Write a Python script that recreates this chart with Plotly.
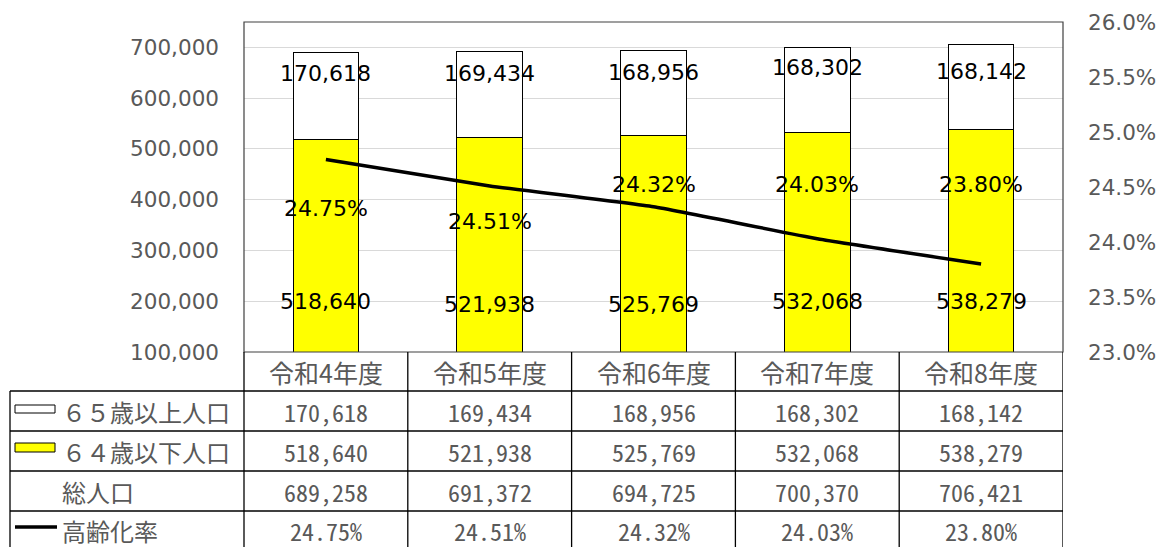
import plotly.graph_objects as go

# ---------------- data ----------------
categories = ["令和4年度", "令和5年度", "令和6年度", "令和7年度", "令和8年度"]
pop_65_over = [170618, 169434, 168956, 168302, 168142]
pop_64_under = [518640, 521938, 525769, 532068, 538279]
pop_total = [689258, 691372, 694725, 700370, 706421]
aging_rate = [24.75, 24.51, 24.32, 24.03, 23.80]  # percent

row_labels = ["６５歳以上人口", "６４歳以下人口", "総人口", "高齢化率"]

# label placement (chart-units) as laid out in the original chart
label_y_65 = [649500, 649500, 651500, 659400, 653400]
label_y_64 = [198500, 192600, 194500, 198500, 198500]
label_y_rate = [24.30, 24.19, 24.52, 24.52, 24.52]

W, H = 1156, 547
def fx(p):
    return p / W
def fy(p):
    return 1 - p / H

GREY = "#595959"
TXT_FONT = "DejaVu Sans"
CJK_FONT = "Noto Sans Mono CJK JP, Noto Sans CJK JP"

fig = go.Figure()

fig.add_trace(go.Bar(
    x=categories, y=pop_64_under, name="64歳以下人口",
    marker=dict(color="#FFFF00", line=dict(color="#000000", width=1)),
    width=0.4, hoverinfo="skip",
))
fig.add_trace(go.Bar(
    x=categories, y=pop_65_over, name="65歳以上人口",
    marker=dict(color="#FFFFFF", line=dict(color="#000000", width=1)),
    width=0.4, hoverinfo="skip",
))
fig.add_trace(go.Scatter(
    x=categories, y=[v / 100 for v in aging_rate], name="高齢化率",
    yaxis="y2", mode="lines",
    line=dict(color="#000000", width=3.5, shape="spline", smoothing=0.4),
    hoverinfo="skip",
))

annotations = []
# data labels on chart
for c, v, y in zip(categories, pop_65_over, label_y_65):
    annotations.append(dict(x=c, y=y, xref="x", yref="y", text=f"{v:,}",
                            showarrow=False, font=dict(family=TXT_FONT, size=22, color="#000000")))
for c, v, y in zip(categories, pop_64_under, label_y_64):
    annotations.append(dict(x=c, y=y, xref="x", yref="y", text=f"{v:,}",
                            showarrow=False, font=dict(family=TXT_FONT, size=22, color="#000000")))
for c, v, y in zip(categories, aging_rate, label_y_rate):
    annotations.append(dict(x=c, y=y / 100, xref="x", yref="y2", text=f"{v:.2f}%",
                            showarrow=False, font=dict(family=TXT_FONT, size=22, color="#000000")))

# table: header row
for c in categories:
    annotations.append(dict(x=c, y=fy(372), xref="x", yref="paper", text=c,
                            showarrow=False, yanchor="middle",
                            font=dict(family="Noto Sans CJK JP", size=25, color=GREY)))

row_centers = [411, 451, 491, 530]
table_rows = [
    [f"{v:,}" for v in pop_65_over],
    [f"{v:,}" for v in pop_64_under],
    [f"{v:,}" for v in pop_total],
    [f"{v:.2f}%" for v in aging_rate],
]
for rc, vals in zip(row_centers, table_rows):
    for c, t in zip(categories, vals):
        annotations.append(dict(x=c, y=fy(rc), xref="x", yref="paper", text=t,
                                showarrow=False, yanchor="middle",
                                font=dict(family=CJK_FONT, size=24, color=GREY)))
for rc, lab in zip(row_centers, row_labels):
    annotations.append(dict(x=fx(60), y=fy(rc), xref="paper", yref="paper", text=lab,
                            showarrow=False, xanchor="left", yanchor="middle",
                            font=dict(family="Noto Sans CJK JP", size=24, color=GREY)))

shapes = []
LINE = dict(color="#000000", width=1.3)
# plot-area border
shapes.append(dict(type="rect", xref="paper", yref="paper",
                   x0=fx(244), x1=fx(1063), y0=fy(352), y1=fy(22),
                   line=dict(color="#404040", width=1.2), layer="above"))
# table horizontal lines
for yy in [391, 431, 471, 511]:
    shapes.append(dict(type="line", xref="paper", yref="paper",
                       x0=fx(10), x1=fx(1063), y0=fy(yy), y1=fy(yy), line=LINE))
# table vertical lines
shapes.append(dict(type="line", xref="paper", yref="paper",
                   x0=fx(10), x1=fx(10), y0=fy(391), y1=0, line=LINE))
shapes.append(dict(type="line", xref="paper", yref="paper",
                   x0=fx(244), x1=fx(244), y0=fy(352), y1=0, line=LINE))
for i in range(len(categories)):
    shapes.append(dict(type="line", xref="x", yref="paper",
                       x0=i + 0.5, x1=i + 0.5, y0=fy(352), y1=0, line=LINE))
# legend keys
shapes.append(dict(type="rect", xref="paper", yref="paper",
                   x0=fx(15), x1=fx(55), y0=fy(413), y1=fy(405),
                   fillcolor="#FFFFFF", line=dict(color="#000000", width=1)))
shapes.append(dict(type="rect", xref="paper", yref="paper",
                   x0=fx(15), x1=fx(55), y0=fy(452), y1=fy(443),
                   fillcolor="#FFFF00", line=dict(color="#000000", width=1)))
shapes.append(dict(type="line", xref="paper", yref="paper",
                   x0=fx(15), x1=fx(57), y0=fy(527), y1=fy(527),
                   line=dict(color="#000000", width=3.5)))

fig.update_layout(
    width=W, height=H,
    margin=dict(l=0, r=0, t=0, b=0, autoexpand=False),
    paper_bgcolor="#FFFFFF", plot_bgcolor="#FFFFFF",
    barmode="stack", bargap=0.6,
    showlegend=False,
    xaxis=dict(domain=[fx(244), fx(1063)], range=[-0.5, len(categories) - 0.5],
               showticklabels=False, showgrid=False, zeroline=False, showline=False,
               ticks="", automargin=False),
    yaxis=dict(domain=[fy(352), fy(22)], range=[100000, 750000],
               tickformat=",", showgrid=True, gridcolor="#D9D9D9", gridwidth=1,
               zeroline=False, showline=False, ticks="", ticklabelstandoff=24,
               automargin=False,
               tickfont=dict(family=TXT_FONT, size=21.5, color=GREY),
               tickvals=[100000, 200000, 300000, 400000, 500000, 600000, 700000]),
    yaxis2=dict(overlaying="y", side="right", range=[0.23, 0.26], dtick=0.005,
                tickformat=".1%", showgrid=False, zeroline=False, showline=False,
                ticks="", ticklabelstandoff=24, automargin=False,
                tickfont=dict(family=TXT_FONT, size=21.5, color=GREY)),
    annotations=annotations,
    shapes=shapes,
)

fig.write_html("out.html", config={"displayModeBar": False},
               post_script="document.body.style.margin='0px';document.body.style.overflow='hidden';")
